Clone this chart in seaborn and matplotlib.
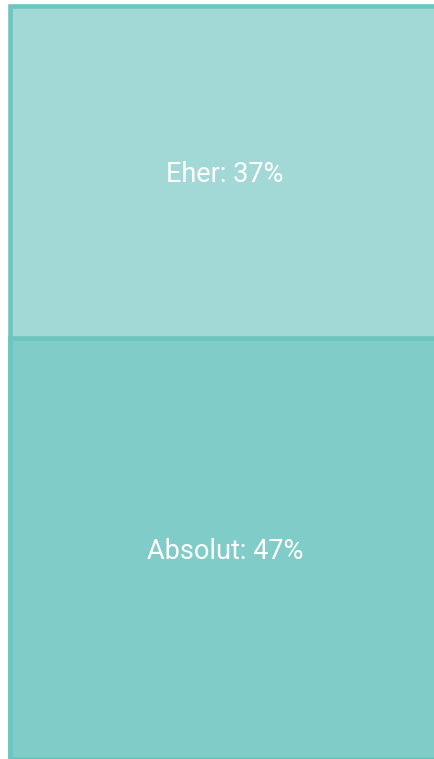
import matplotlib
matplotlib.use("Agg")
import matplotlib.pyplot as plt
import pandas as pd
import seaborn as sns

# treemap column (share of answers, %)
categories = ["Absolut", "Eher"]
shares = [47, 37]

FILL = {"Absolut": "#80CCC8", "Eher": "#A2D9D6"}
EDGE = "#6CC5BE"


def main() -> None:
    sns.set_theme(style="white")
    plt.rcParams["font.family"] = ["Roboto", "DejaVu Sans"]

    df = pd.DataFrame({"cat": categories, "share": shares})
    df["top"] = df["share"].cumsum()
    df["mid"] = df["top"] - df["share"] / 2
    df["x"] = "col"

    fig = plt.figure(figsize=(4.35, 7.59), dpi=100, facecolor="white")
    ax = fig.add_axes([0, 0, 1, 1])

    # stacked by overlay: draw the tallest segment first
    for _, row in df.iloc[::-1].iterrows():
        sns.barplot(data=row.to_frame().T, x="x", y="top", color=FILL[row["cat"]],
                    width=0.8, saturation=1, edgecolor=EDGE, linewidth=3.3, ax=ax)

    for _, row in df.iterrows():
        ax.text(0, row["mid"], f"{row['cat']}: {row['share']}%", ha="center",
                va="center_baseline", color="white", fontsize=19.5)

    # the column runs off the right edge of the picture
    px = 430 / 0.8
    ax.set_xlim(-0.4 - 10 / px, -0.4 + 425 / px)
    py = 753.3 / sum(shares)
    ax.set_ylim(0, 759 / py)
    ax.axis("off")

    fig.savefig("out.png", dpi=100, facecolor="white")
    plt.close(fig)


if __name__ == "__main__":
    main()
